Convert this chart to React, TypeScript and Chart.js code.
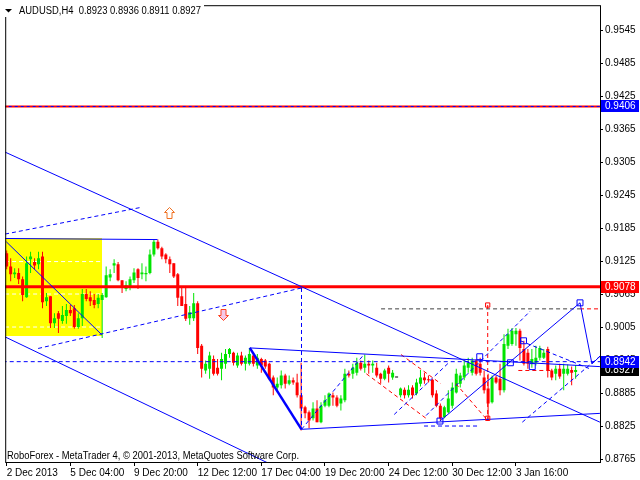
import React, { useEffect, useRef } from "react";
import { Chart, registerables } from "chart.js";
Chart.register(...registerables);

// ---------- data ----------
const symbol = "AUDUSD,H4";
const lastQuote = [0.8923, 0.8936, 0.8911, 0.8927];
const footerText = "RoboForex - MetaTrader 4, \u00a9 2001-2013, MetaQuotes Software Corp.";

const opens = [
  0.9139, 0.9115, 0.9101, 0.9103, 0.9092, 0.9059, 0.9128, 0.9123, 0.9119, 0.9133,
  0.9052, 0.9061, 0.9012, 0.9030, 0.9016, 0.9025, 0.9036, 0.9039, 0.9005, 0.9021,
  0.9065, 0.9059, 0.9054, 0.9047, 0.9054, 0.9059, 0.9095, 0.9117, 0.9119, 0.9090,
  0.9074, 0.9076, 0.9090, 0.9110, 0.9101, 0.9101, 0.9103, 0.9137, 0.9160, 0.9148,
  0.9137, 0.9128, 0.9121, 0.9101, 0.9061, 0.9047, 0.9021, 0.9021, 0.9048, 0.8971,
  0.8926, 0.8929, 0.8947, 0.8931, 0.8929, 0.8938, 0.8956, 0.8958, 0.8935, 0.8953,
  0.8938, 0.8938, 0.8953, 0.8935, 0.8947, 0.8944, 0.8938, 0.8913, 0.8895, 0.8899,
  0.8917, 0.8902, 0.8908, 0.8904, 0.8881, 0.8859, 0.8850, 0.8839, 0.8857, 0.8832,
  0.8862, 0.8862, 0.8881, 0.8877, 0.8866, 0.8872, 0.8920, 0.8920, 0.8922, 0.8940,
  0.8931, 0.8938, 0.8935, 0.8931, 0.8920, 0.8911, 0.8931, 0.8913, 0.8913, 0.8881,
  0.8891, 0.8881, 0.8895, 0.8884, 0.8902, 0.8913, 0.8909, 0.8909, 0.8884, 0.8862,
  0.8841, 0.8850, 0.8862, 0.8886, 0.8902, 0.8913, 0.8931, 0.8922, 0.8944, 0.8938,
  0.8913, 0.8893, 0.8868, 0.8913, 0.8911, 0.8890, 0.8971, 0.8974, 0.8992, 0.8998,
  0.8965, 0.8958, 0.8938, 0.8940, 0.8949, 0.8949, 0.8965, 0.8926, 0.8920, 0.8929,
  0.8920, 0.8920, 0.8927, 0.8923,
];
const highs = [
  0.9144, 0.9130, 0.9112, 0.9112, 0.9097, 0.9133, 0.9142, 0.9130, 0.9142, 0.9142,
  0.9067, 0.9061, 0.9030, 0.9034, 0.9043, 0.9047, 0.9045, 0.9045, 0.9030, 0.9074,
  0.9074, 0.9070, 0.9065, 0.9065, 0.9067, 0.9115, 0.9110, 0.9128, 0.9123, 0.9090,
  0.9088, 0.9097, 0.9112, 0.9112, 0.9121, 0.9115, 0.9146, 0.9164, 0.9164, 0.9151,
  0.9139, 0.9133, 0.9121, 0.9103, 0.9079, 0.9079, 0.9043, 0.9067, 0.9052, 0.8974,
  0.8944, 0.8960, 0.8953, 0.8947, 0.8958, 0.8965, 0.8967, 0.8960, 0.8958, 0.8960,
  0.8953, 0.8967, 0.8958, 0.8956, 0.8949, 0.8947, 0.8940, 0.8917, 0.8913, 0.8926,
  0.8920, 0.8917, 0.8913, 0.8920, 0.8940, 0.8862, 0.8853, 0.8868, 0.8872, 0.8868,
  0.8881, 0.8886, 0.8886, 0.8881, 0.8881, 0.8929, 0.8926, 0.8938, 0.8949, 0.8944,
  0.8955, 0.8944, 0.8944, 0.8940, 0.8922, 0.8929, 0.8935, 0.8927, 0.8913, 0.8895,
  0.8895, 0.8899, 0.8899, 0.8911, 0.8927, 0.8922, 0.8917, 0.8911, 0.8890, 0.8866,
  0.8862, 0.8890, 0.8904, 0.8929, 0.8922, 0.8944, 0.8949, 0.8949, 0.8947, 0.8949,
  0.8926, 0.8920, 0.8917, 0.8917, 0.8938, 0.8992, 0.9002, 0.9003, 0.9003, 0.9002,
  0.8980, 0.8965, 0.8965, 0.8971, 0.8971, 0.8965, 0.8969, 0.8929, 0.8935, 0.8938,
  0.8938, 0.8937, 0.8933, 0.8936,
];
const lows = [
  0.9110, 0.9088, 0.9094, 0.9083, 0.9052, 0.9058, 0.9103, 0.9110, 0.9110, 0.9039,
  0.9043, 0.9003, 0.9003, 0.8994, 0.9011, 0.9011, 0.9025, 0.9002, 0.9002, 0.9007,
  0.9052, 0.9043, 0.9039, 0.9039, 0.8985, 0.9058, 0.9088, 0.9103, 0.9088, 0.9067,
  0.9070, 0.9072, 0.9085, 0.9074, 0.9092, 0.9088, 0.9101, 0.9133, 0.9146, 0.9128,
  0.9121, 0.9103, 0.9094, 0.9043, 0.9043, 0.9016, 0.9009, 0.9016, 0.8956, 0.8913,
  0.8920, 0.8911, 0.8917, 0.8917, 0.8908, 0.8929, 0.8949, 0.8935, 0.8931, 0.8935,
  0.8926, 0.8935, 0.8933, 0.8929, 0.8922, 0.8929, 0.8908, 0.8881, 0.8890, 0.8893,
  0.8893, 0.8899, 0.8900, 0.8877, 0.8817, 0.8839, 0.8821, 0.8835, 0.8832, 0.8830,
  0.8859, 0.8859, 0.8862, 0.8859, 0.8853, 0.8868, 0.8913, 0.8911, 0.8917, 0.8926,
  0.8922, 0.8920, 0.8922, 0.8913, 0.8902, 0.8908, 0.8904, 0.8909, 0.8913, 0.8877,
  0.8875, 0.8877, 0.8875, 0.8881, 0.8897, 0.8902, 0.8904, 0.8877, 0.8859, 0.8834,
  0.8839, 0.8848, 0.8857, 0.8884, 0.8895, 0.8908, 0.8922, 0.8917, 0.8917, 0.8917,
  0.8884, 0.8835, 0.8866, 0.8902, 0.8881, 0.8886, 0.8965, 0.8971, 0.8971, 0.8944,
  0.8935, 0.8929, 0.8931, 0.8935, 0.8944, 0.8947, 0.8913, 0.8908, 0.8908, 0.8911,
  0.8890, 0.8917, 0.8899, 0.8911,
];
const closes = [
  0.9115, 0.9101, 0.9104, 0.9092, 0.9063, 0.9121, 0.9133, 0.9117, 0.9130, 0.9050,
  0.9059, 0.9012, 0.9021, 0.9020, 0.9027, 0.9036, 0.9030, 0.9005, 0.9021, 0.9065,
  0.9056, 0.9052, 0.9045, 0.9058, 0.9063, 0.9099, 0.9101, 0.9121, 0.9090, 0.9076,
  0.9081, 0.9092, 0.9104, 0.9094, 0.9104, 0.9103, 0.9137, 0.9160, 0.9148, 0.9133,
  0.9128, 0.9119, 0.9097, 0.9058, 0.9043, 0.9020, 0.9032, 0.9048, 0.8967, 0.8929,
  0.8938, 0.8953, 0.8920, 0.8920, 0.8947, 0.8956, 0.8965, 0.8940, 0.8953, 0.8938,
  0.8949, 0.8956, 0.8938, 0.8949, 0.8935, 0.8933, 0.8911, 0.8895, 0.8902, 0.8917,
  0.8902, 0.8908, 0.8904, 0.8881, 0.8857, 0.8848, 0.8835, 0.8857, 0.8832, 0.8862,
  0.8872, 0.8884, 0.8877, 0.8862, 0.8875, 0.8920, 0.8917, 0.8931, 0.8940, 0.8929,
  0.8938, 0.8935, 0.8938, 0.8917, 0.8911, 0.8926, 0.8920, 0.8922, 0.8913, 0.8893,
  0.8881, 0.8891, 0.8881, 0.8904, 0.8913, 0.8908, 0.8908, 0.8881, 0.8862, 0.8839,
  0.8859, 0.8875, 0.8895, 0.8920, 0.8917, 0.8935, 0.8940, 0.8944, 0.8920, 0.8922,
  0.8890, 0.8866, 0.8913, 0.8904, 0.8890, 0.8974, 0.8992, 0.8998, 0.8998, 0.8967,
  0.8938, 0.8938, 0.8947, 0.8949, 0.8967, 0.8958, 0.8926, 0.8913, 0.8929, 0.8915,
  0.8929, 0.8929, 0.8922, 0.8927,
];

const timeTickBars = [0, 16, 32, 48, 64, 80, 96, 112, 128];
const timeTickLabels = [
  "2 Dec 2013", "5 Dec 04:00", "9 Dec 20:00", "12 Dec 12:00", "17 Dec 04:00",
  "19 Dec 20:00", "24 Dec 12:00", "30 Dec 12:00", "3 Jan 16:00",
];
const priceTicks = [
  0.8765, 0.8825, 0.8885, 0.8945, 0.9005, 0.9065, 0.9125,
  0.9185, 0.9245, 0.9305, 0.9365, 0.9425, 0.9485, 0.9545,
];

const levelTop = 0.9406;
const levelRed = 0.9078;
const levelPivot = 0.8942;
const lastPrice = 0.8927;

// yellow zone: bar range and price range
const zoneBars = [-0.4, 23.9];
const zonePrices = [0.9166, 0.8989];
const zoneLevels = [0.9124, 0.9065, 0.9005];

type P = [number, number]; // [bar index, price]
const solidLines: P[][] = [
  [[-0.4, 0.9323], [149.1, 0.8832]],
  [[-0.4, 0.8987], [65.6, 0.8758]],
  [[-0.4, 0.9166], [37.9, 0.9164]],
  [[-0.1, 0.916], [23.9, 0.8991]],
  [[61.1, 0.8967], [149.1, 0.8933]],
  [[74.1, 0.8819], [149.1, 0.8848]],
  [[108.9, 0.8834], [144.1, 0.9049]],
  [[144.1, 0.9049], [147.1, 0.8938], [149.3, 0.8953]],
];
const boldLines: P[][] = [[[61.1, 0.8967], [74.1, 0.8819]]];
const blueDashed: P[][] = [
  [[-0.4, 0.9174], [33.4, 0.9222]],
  [[7.9, 0.8966], [74.1, 0.9076]],
  [[74.1, 0.9076], [74.1, 0.8819]],
  [[74.1, 0.8819], [89.9, 0.8956]],
  [[105.4, 0.8844], [131.6, 0.9034]],
  [[129.6, 0.8832], [149.3, 0.8953]],
  [[129.1, 0.898], [146.6, 0.8929]],
  [[97.4, 0.8846], [111.1, 0.894]],
  [[104.9, 0.8825], [118.6, 0.8825]],
];
const redDashed: P[][] = [
  [[90.4, 0.892], [105.4, 0.8839]],
  [[99.1, 0.8955], [109.1, 0.8902]],
  [[112.9, 0.8902], [120.9, 0.8835]],
  [[128.6, 0.8926], [136.6, 0.8926]],
  [[144.1, 0.9038], [149.3, 0.9038]],
  [[120.9, 0.9045], [120.9, 0.8835]],
];
const grayDashed: P[][] = [[[94.1, 0.9038], [144.1, 0.9038]]];
const blueSquares: P[] = [
  [108.9, 0.8834], [118.9, 0.8951], [126.6, 0.894], [129.9, 0.898], [132.1, 0.8933], [144.1, 0.9049],
];
const redSquares: P[] = [[120.9, 0.9045], [120.9, 0.8839]];
const upArrows: P[] = [[40.9, 0.9213]];
const downArrows: P[] = [[54.4, 0.9029]];

// ---------- styles ----------
const BULL = "#00e400";
const BEAR = "#ff0000";
const BLUE = "#0000ff";
const FONT = '"Liberation Sans", Arial, sans-serif';
const X_MIN = -0.375;
const X_MAX = 149.125;
const Y_MIN = 0.875958;
const Y_MAX = 0.959014;

const seg = (pts: P[], color: string, width: number, dash: number[], order = 2) => ({
  type: "line" as const,
  data: pts.map(([x, y]) => ({ x, y })),
  borderColor: color,
  borderWidth: width,
  borderDash: dash,
  pointRadius: 0,
  fill: false,
  tension: 0,
  order,
  clip: 0,
});

const full = (v: number): P[] => [[-1, v], [151, v]];

function drawArrow(ctx: CanvasRenderingContext2D, cx: number, cy: number, up: boolean, stroke: string, fill: string) {
  const s = up ? 1 : -1;
  ctx.beginPath();
  ctx.moveTo(cx, cy - 6 * s);
  ctx.lineTo(cx + 5, cy - 1 * s);
  ctx.lineTo(cx + 2.5, cy - 1 * s);
  ctx.lineTo(cx + 2.5, cy + 5 * s);
  ctx.lineTo(cx - 2.5, cy + 5 * s);
  ctx.lineTo(cx - 2.5, cy - 1 * s);
  ctx.lineTo(cx - 5, cy - 1 * s);
  ctx.closePath();
  ctx.fillStyle = fill;
  ctx.fill();
  ctx.strokeStyle = stroke;
  ctx.lineWidth = 1;
  ctx.stroke();
}

const overlayPlugin = {
  id: "mtOverlay",
  beforeDatasetsDraw(chart: any) {
    const { ctx, chartArea, scales } = chart;
    const x = scales.x, y = scales.y;
    ctx.save();
    ctx.beginPath();
    ctx.rect(chartArea.left, chartArea.top, chartArea.right - chartArea.left, chartArea.bottom - chartArea.top);
    ctx.clip();
    const x0 = Math.round(x.getPixelForValue(zoneBars[0]));
    const x1 = Math.round(x.getPixelForValue(zoneBars[1]));
    const y0 = Math.round(y.getPixelForValue(zonePrices[0]));
    const y1 = Math.round(y.getPixelForValue(zonePrices[1]));
    ctx.fillStyle = "#ffff00";
    ctx.fillRect(x0, y0, x1 - x0, y1 - y0);
    ctx.restore();
  },
  afterDatasetsDraw(chart: any) {
    const { ctx, scales } = chart;
    const x = scales.x, y = scales.y;
    ctx.save();
    upArrows.forEach(([b, p]) =>
      drawArrow(ctx, Math.round(x.getPixelForValue(b)) + 0.5, Math.round(y.getPixelForValue(p)) + 0.5, true, "#f07020", "#ffffff"));
    downArrows.forEach(([b, p]) =>
      drawArrow(ctx, Math.round(x.getPixelForValue(b)) + 0.5, Math.round(y.getPixelForValue(p)) + 0.5, false, "#ff4020", "#f4c8e8"));
    ctx.restore();
  },
  afterDraw(chart: any) {
    const { ctx, chartArea, scales } = chart;
    const y = scales.y;
    ctx.save();
    // frame
    ctx.strokeStyle = "#000";
    ctx.lineWidth = 1;
    ctx.strokeRect(chartArea.left + 0.5, chartArea.top + 0.5, chartArea.right - chartArea.left, chartArea.bottom - chartArea.top);
    // footer
    ctx.font = `10px ${FONT}`;
    ctx.fillStyle = "#000";
    ctx.textBaseline = "alphabetic";
    ctx.textAlign = "left";
    ctx.fillText(footerText, 7, 459, 292);
    // title
    ctx.fillStyle = "#fff";
    ctx.fillRect(0, 0, 204, 17);
    ctx.fillStyle = "#000";
    ctx.beginPath();
    ctx.moveTo(5, 9);
    ctx.lineTo(12, 9);
    ctx.lineTo(8.5, 12.5);
    ctx.closePath();
    ctx.fill();
    ctx.fillText(symbol + "  " + lastQuote.map((v) => v.toFixed(4)).join(" "), 19, 14, 182);
    // price tags
    const tags: [number, string][] = [
      [levelTop, BLUE],
      [levelRed, "#ff0000"],
      [lastPrice, "#000000"],
      [levelPivot, BLUE],
    ];
    ctx.textBaseline = "middle";
    tags.forEach(([v, bg]) => {
      const py = Math.round(y.getPixelForValue(v));
      ctx.fillStyle = bg;
      ctx.fillRect(chartArea.right + 1, py - 6, 38, 12);
      ctx.fillStyle = "#fff";
      ctx.fillText(v.toFixed(4), chartArea.right + 5, py + 0.5);
    });
    ctx.restore();
  },
};

export default function App() {
  const ref = useRef<HTMLCanvasElement>(null);
  useEffect(() => {
    const idx = opens.map((_, i) => i);
    const colors = idx.map((i) => (closes[i] > opens[i] ? BULL : closes[i] < opens[i] ? BEAR : "#000000"));
    const datasets: any[] = [
      ...zoneLevels.map((v) => seg([[zoneBars[0], v], [zoneBars[1], v]], "#ffffff", 1, [4, 3], 20)),
      {
        type: "bar",
        data: idx.map((i) => ({ x: i, y: [lows[i], highs[i]] })),
        backgroundColor: colors,
        barThickness: 1,
        grouped: false,
        borderWidth: 0,
        inflateAmount: 0,
        order: 11,
      },
      {
        type: "bar",
        data: idx.map((i) => ({ x: i, y: [opens[i], closes[i]] })),
        backgroundColor: colors,
        barThickness: 3,
        grouped: false,
        borderWidth: 0,
        inflateAmount: 0,
        minBarLength: 1,
        order: 10,
      },
      seg(full(levelTop), "#ff0000", 2, [], 3),
      seg(full(levelTop), BLUE, 1, [3, 3], 2),
      seg(full(levelRed), "#ff0000", 3, [], 3),
      seg(full(levelPivot), BLUE, 1, [4, 3], 2),
      ...solidLines.map((l) => seg(l, BLUE, 1, [])),
      ...boldLines.map((l) => seg(l, BLUE, 2.5, [])),
      ...blueDashed.map((l) => seg(l, BLUE, 1, [4, 3])),
      ...redDashed.map((l) => seg(l, "#ff0000", 1, [4, 3])),
      ...grayDashed.map((l) => seg(l, "#404040", 1, [4, 3])),
      {
        type: "scatter",
        data: blueSquares.map(([x, y]) => ({ x, y })),
        pointStyle: "rect",
        pointRadius: 4.2,
        borderColor: BLUE,
        backgroundColor: "rgba(255,255,255,0)",
        borderWidth: 1,
        order: 0,
        clip: 0,
      },
      {
        type: "scatter",
        data: redSquares.map(([x, y]) => ({ x, y })),
        pointStyle: "rect",
        pointRadius: 3,
        borderColor: "#ff0000",
        backgroundColor: "rgba(255,255,255,0)",
        borderWidth: 1,
        order: 0,
        clip: 0,
      },
    ];

    const chart = new Chart(ref.current as HTMLCanvasElement, {
      type: "bar",
      data: { datasets },
      options: {
        responsive: false,
        animation: false,
        devicePixelRatio: 1,
        events: [],
        layout: { padding: { left: 2, top: 2, right: 0, bottom: 0 } },
        plugins: { legend: { display: false }, tooltip: { enabled: false }, title: { display: false } },
        scales: {
          x: {
            type: "linear",
            min: X_MIN,
            max: X_MAX,
            offset: false,
            grid: { display: true, drawOnChartArea: false, drawTicks: true, tickLength: 4, color: "#000", offset: false },
            border: { display: false },
            afterBuildTicks: (s: any) => {
              s.ticks = timeTickBars.map((v) => ({ value: v }));
            },
            afterFit: (s: any) => {
              s.height = 18;
              s.paddingLeft = 0;
              s.paddingRight = 0;
            },
            ticks: {
              autoSkip: false,
              maxRotation: 0,
              minRotation: 0,
              align: "start",
              padding: 1,
              color: "#000",
              font: { family: FONT, size: 10 },
              callback: (v: any) => {
                const k = timeTickBars.indexOf(Number(v));
                return k >= 0 ? timeTickLabels[k] : "";
              },
            },
          },
          y: {
            type: "linear",
            position: "right",
            min: Y_MIN,
            max: Y_MAX,
            grid: { display: true, drawOnChartArea: false, drawTicks: true, tickLength: 3, color: "#000" },
            border: { display: false },
            afterBuildTicks: (s: any) => {
              s.ticks = priceTicks.map((v) => ({ value: v }));
            },
            afterFit: (s: any) => {
              s.width = 40;
              s.paddingTop = 0;
              s.paddingBottom = 0;
            },
            ticks: {
              padding: 2,
              color: "#000",
              font: { family: FONT, size: 10 },
              callback: (v: any) => Number(v).toFixed(4),
            },
          },
        },
      } as any,
      plugins: [overlayPlugin],
    } as any);
    return () => chart.destroy();
  }, []);

  return (
    <div style={{ position: "fixed", left: 0, top: 0, width: 640, height: 480, background: "#fff" }}>
      <canvas ref={ref} width={640} height={480} style={{ display: "block", width: 640, height: 480 }} />
    </div>
  );
}
